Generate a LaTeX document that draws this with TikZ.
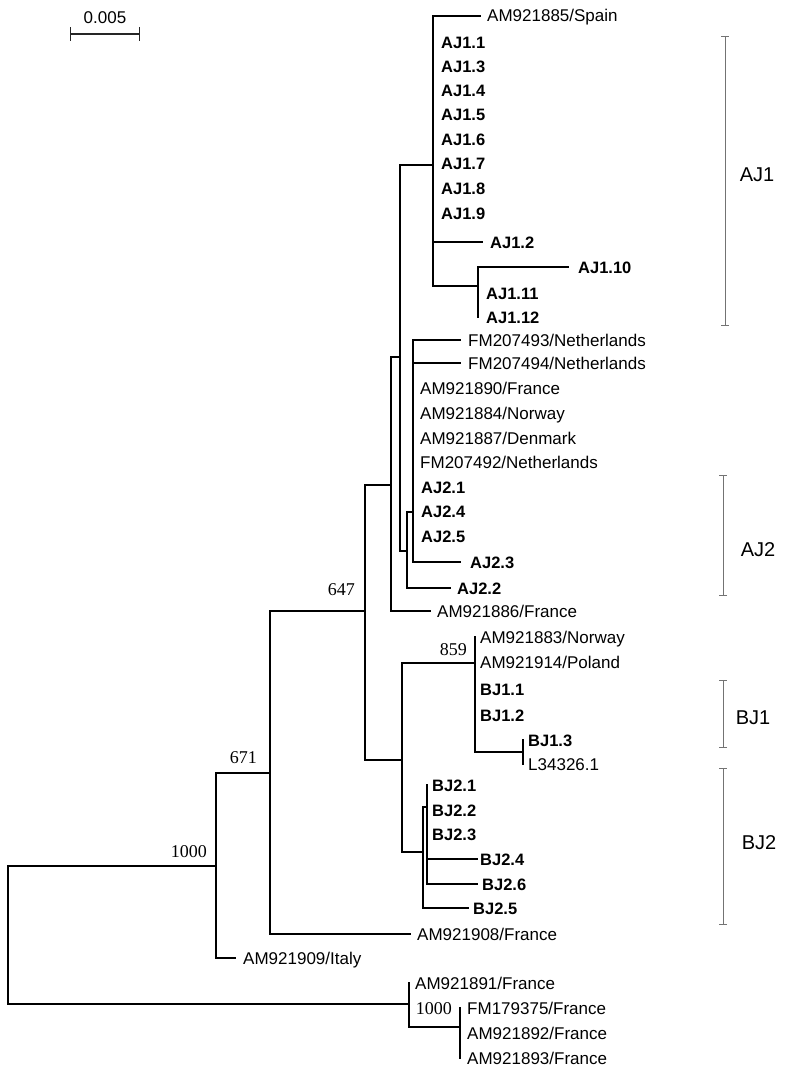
\documentclass[tikz,border=0pt]{standalone}
\usepackage{fontspec}
\setmainfont{Liberation Sans}
\newfontfamily\bsfont{Liberation Serif}
\usetikzlibrary{arrows.meta}
\newcommand\myleaf[6]{\coordinate (#1) at (#2,#3); \node[#6] (L#1) at (#4,#3+6) {#5};}
\begin{document}
\begin{tikzpicture}[x=1pt,y=-1pt,
  tree/.style={line width=1.1pt, line cap=rect, black},
  thickv/.style={line width=2.8pt, black},
  lab/.style={anchor=base west, inner sep=0pt, font=\fontsize{17}{20}\selectfont},
  blab/.style={anchor=base west, inner sep=0pt, font=\bfseries\fontsize{16.5}{20}\selectfont},
  boot/.style={anchor=base east, inner sep=0pt, font=\bsfont\fontsize{18}{20}\selectfont},
  grp/.style={inner sep=0pt, font=\fontsize{20}{24}\selectfont},
  brk/.style={line width=0.9pt, draw=black!55, {Bar[width=8pt]}-{Bar[width=8pt]}},
  sbar/.style={line width=1.2pt, draw=black!85, {Bar[width=14pt]}-{Bar[width=14pt]}}
]
\useasboundingbox (0,0) rectangle (787,1067);

% ---- leaves
\myleaf{Spain}{480}{16}{487}{AM921885/Spain}{lab}
\myleaf{AJa}{433}{43}{441}{AJ1.1}{blab}
\myleaf{AJb}{433}{67}{441}{AJ1.3}{blab}
\myleaf{AJc}{433}{91}{441}{AJ1.4}{blab}
\myleaf{AJd}{433}{115}{441}{AJ1.5}{blab}
\myleaf{AJe}{433}{140}{441}{AJ1.6}{blab}
\myleaf{AJf}{433}{164}{441}{AJ1.7}{blab}
\myleaf{AJg}{433}{189}{441}{AJ1.8}{blab}
\myleaf{AJh}{433}{214}{441}{AJ1.9}{blab}
\myleaf{AJi}{482}{242}{490}{AJ1.2}{blab}
\myleaf{AJj}{568}{267}{578}{AJ1.10}{blab}
\myleaf{AJk}{478}{293}{486}{AJ1.11}{blab}
\myleaf{AJl}{478}{317}{486}{AJ1.12}{blab}
\myleaf{FMa}{460}{340}{468}{FM207493/Netherlands}{lab}
\myleaf{FMb}{460}{363}{468}{FM207494/Netherlands}{lab}
\myleaf{AMa}{413}{388}{420}{AM921890/France}{lab}
\myleaf{AMb}{413}{413}{420}{AM921884/Norway}{lab}
\myleaf{AMc}{413}{438}{420}{AM921887/Denmark}{lab}
\myleaf{FMc}{413}{462}{420}{FM207492/Netherlands}{lab}
\myleaf{Ba}{413}{487}{421}{AJ2.1}{blab}
\myleaf{Bb}{413}{511}{421}{AJ2.4}{blab}
\myleaf{Bc}{413}{536}{421}{AJ2.5}{blab}
\myleaf{Bd}{460}{562}{470}{AJ2.3}{blab}
\myleaf{Be}{450}{588}{457}{AJ2.2}{blab}
\myleaf{AMd}{430}{611}{437}{AM921886/France}{lab}
\myleaf{AMe}{475}{637}{480}{AM921883/Norway}{lab}
\myleaf{AMf}{475}{662}{480}{AM921914/Poland}{lab}
\myleaf{Ca}{475}{689}{480}{BJ1.1}{blab}
\myleaf{Cb}{475}{715}{480}{BJ1.2}{blab}
\myleaf{Cc}{523}{740}{528}{BJ1.3}{blab}
\myleaf{Lx}{523}{764}{528}{L34326.1}{lab}
\myleaf{Da}{427}{785}{432}{BJ2.1}{blab}
\myleaf{Db}{427}{810}{432}{BJ2.2}{blab}
\myleaf{Dc}{427}{834}{432}{BJ2.3}{blab}
\myleaf{Dd}{477}{859}{480}{BJ2.4}{blab}
\myleaf{De}{477}{884}{482}{BJ2.6}{blab}
\myleaf{Df}{468}{908}{473}{BJ2.5}{blab}
\myleaf{AMg}{410}{934}{417}{AM921908/France}{lab}
\myleaf{AMh}{235}{958}{243}{AM921909/Italy}{lab}
\myleaf{AMi}{409}{983}{415}{AM921891/France}{lab}
\myleaf{FMd}{460}{1008}{467}{FM179375/France}{lab}
\myleaf{AMj}{460}{1033}{467}{AM921892/France}{lab}
\myleaf{AMk}{460}{1058}{467}{AM921893/France}{lab}

% ---- internal nodes
\coordinate (R) at (8,935);
\coordinate (N1000) at (216,866);
\coordinate (N671) at (270,773);
\coordinate (N647) at (365,611);
\coordinate (NA) at (391,485);
\coordinate (NAJ) at (400,357);
\coordinate (AJone) at (433,165);
\coordinate (AJsub) at (478,286);
\coordinate (AJtwo) at (407,551);
\coordinate (AJtwoa) at (413,512);
\coordinate (BJ) at (402,760);
\coordinate (N859) at (475,663);
\coordinate (BJthree) at (523,752);
\coordinate (BJtwo) at (423,852);
\coordinate (BJtwoa) at (427,807);
\coordinate (Out) at (409,1004);
\coordinate (OutB) at (460,1027);

% ---- edges
\foreach \p/\c in {R/N1000, R/Out, N1000/N671, N1000/AMh, N671/N647, N671/AMg,
  N647/NA, N647/BJ, NA/NAJ, NA/AMd, NAJ/AJone, NAJ/AJtwo,
  AJone/Spain, AJone/AJa, AJone/AJh, AJone/AJi, AJone/AJsub,
  AJsub/AJj, AJsub/AJk, AJsub/AJl,
  AJtwo/AJtwoa, AJtwo/Be,
  AJtwoa/FMa, AJtwoa/FMb, AJtwoa/AMa, AJtwoa/Ba, AJtwoa/Bd,
  BJ/N859, BJ/BJtwo, N859/AMe, N859/AMf, N859/Ca, N859/Cb, N859/BJthree,
  BJthree/Cc, BJthree/Lx, BJtwo/BJtwoa, BJtwo/Df,
  BJtwoa/Da, BJtwoa/Dd, BJtwoa/De,
  Out/AMi, Out/OutB, OutB/FMd, OutB/AMj, OutB/AMk}
  \draw[tree] (\p) |- (\c);
\draw[thickv] (AJa) -- (AJone |- AJi);
\draw[thickv, shorten <=-2pt, shorten >=11pt] (AJk) -- (AJl);

% ---- bootstrap values
\node[boot] (b1000) at (207,857) {1000};
\node[boot] (b671) at (257,763) {671};
\node[boot] (b647) at (355,595) {647};
\node[boot] (b859) at (467,655) {859};
\node[boot] (b1000o) at (452,1014) {1000};

% ---- group brackets
\coordinate (g1t) at (725,36);  \coordinate (g1b) at (725,326);
\coordinate (g2t) at (723,475); \coordinate (g2b) at (723,596);
\coordinate (g3t) at (723,680); \coordinate (g3b) at (723,748);
\coordinate (g4t) at (723,768); \coordinate (g4b) at (723,925);
\draw[brk] (g1t) -- (g1b);
\draw[brk] (g2t) -- (g2b);
\draw[brk] (g3t) -- (g3b);
\draw[brk] (g4t) -- (g4b);
\node[grp] (gAJ1) at (757,175) {AJ1};
\node[grp] (gAJ2) at (758,550) {AJ2};
\node[grp] (gBJ1) at (753,718) {BJ1};
\node[grp] (gBJ2) at (759,843) {BJ2};

% ---- scale bar
\coordinate (s1) at (70,34); \coordinate (s2) at (140,34);
\draw[sbar] (s1) -- (s2);
\node[inner sep=0pt, font=\fontsize{17}{20}\selectfont] (sc) at (105,18) {0.005};
\end{tikzpicture}
\end{document}
